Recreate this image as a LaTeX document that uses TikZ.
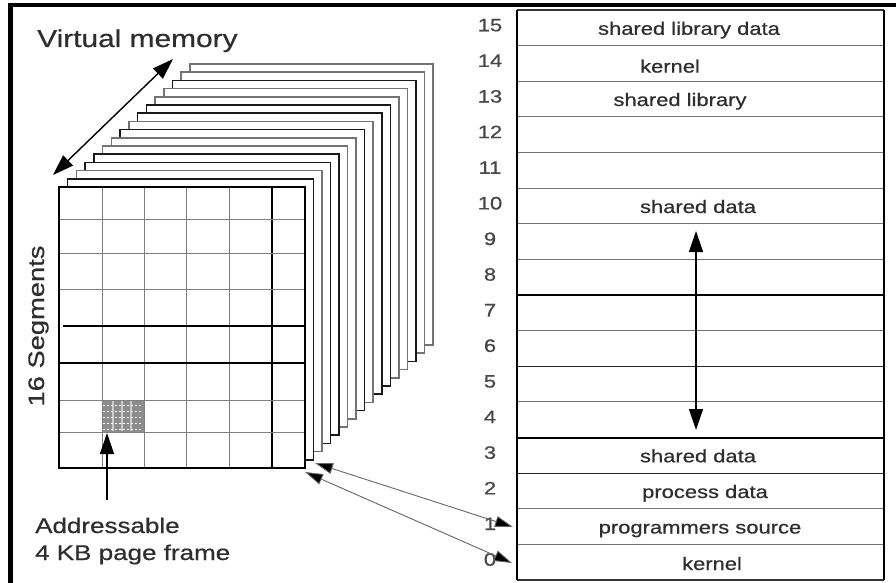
\documentclass[tikz,border=0pt]{standalone}
\usepackage{fontspec}
\setmainfont{Liberation Sans}[FakeStretch=1.22,FakeBold=0.6]
\usetikzlibrary{arrows.meta}
\begin{document}
\begin{tikzpicture}[x=1pt,y=-1pt,
  txt/.style={text=black!82, inner sep=0pt},
  rowtxt/.style={txt, font=\fontsize{18}{21}\selectfont, anchor=base},
  numtxt/.style={txt, text=black!72, font=\fontsize{18}{21}\selectfont, anchor=base},
  bigarrow/.style={line width=1.4pt, draw=black, {Triangle[length=21pt,width=14pt]}-{Triangle[length=21pt,width=14pt]}},
  uparrow/.style={line width=1.4pt, draw=black, -{Triangle[length=21pt,width=14pt]}},
  smallarrow/.style={line width=0.9pt, draw=black!60, {Triangle[length=18pt,width=11pt,fill=black]}-{Triangle[length=18pt,width=11pt,fill=black]}},
  gridthin/.style={draw=black!50, line width=0.9pt},
  gridthick/.style={draw=black, line width=1.3pt},
  rowthin/.style={draw=black!55, line width=1pt},
  rowthick/.style={draw=black, line width=2pt},
  rowmid/.style={draw=black!85, line width=1.2pt},
  pageback/.style={fill=white, line width=1.5pt},
]
\useasboundingbox (0,0) rectangle (896,583);
\fill[white] (0,0) rectangle (896,583);
% outer frame (top and left edges)
\fill[black] (8,3) rectangle (896,7.5);
\fill[black] (8,3) rectangle (12.5,583);

% ---------- stack of pages ----------
\foreach \k/\c in {15/black!55,14/black!55,13/black!90,12/black!55,11/black!55,10/black!90,9/black!90,8/black!55,7/black!90,6/black!55,5/black!55,4/black!90,3/black!90,2/black!55,1/black!90}{
  \draw[pageback, draw=\c] ({59+\k*8.73},{187-\k*8.2}) rectangle ({305+\k*8.53},{468-\k*8.2});
}
% front page
\node[draw=black, line width=1.3pt, fill=white, minimum width=246pt, minimum height=281pt,
      inner sep=0pt, outer sep=0pt, anchor=north west] (page) at (59,187) {};
% shaded page frame
\node[fill=black!45, minimum width=42pt, minimum height=32pt, inner sep=0pt, anchor=north west] (cell) at (102,400) {};
\foreach \xx in {113,122,131}{\draw[white!80!black, line width=1.6pt] (\xx,401) -- (\xx,431);}
\foreach \yy in {405,411,417,423,429}{\draw[white, line width=1pt, dash pattern=on 1.5pt off 2.5pt] (103,\yy) -- (143,\yy);}
% grid
\foreach \xx in {102,144,186,229}{\draw[gridthin] (\xx,187) -- (\xx,468);}
\draw[gridthick] (272,187) -- (272,468);
\foreach \yy in {219,253,289,400,432}{\draw[gridthin] (59,\yy) -- (305,\yy);}
\draw[gridthick] (63,326) -- (305,326);
\draw[gridthick] (59,363) -- (305,363);
\draw[black, line width=1.3pt] (page.north west) rectangle (page.south east);

% labels on the left
\node[txt, font=\fontsize{24.5}{27}\selectfont, anchor=base west] (vm) at (37,47) {Virtual memory};
\node[txt, font=\fontsize{22.4}{25}\selectfont, anchor=base, rotate=90] (seg) at (44,326) {16 Segments};
\node[txt, font=\fontsize{21.3}{24}\selectfont, anchor=base west] (addr) at (35,533) {Addressable};
\node[txt, font=\fontsize{21.3}{24}\selectfont, anchor=base west] (kb) at (35,560) {4 KB page frame};

\coordinate (vmA) at (53,175);
\coordinate (vmB) at (173,59);
\draw[bigarrow] (vmA) -- (vmB);
\coordinate (addrTail) at (107,500);
\coordinate (cellTip) at (107,433);
\draw[uparrow] (addrTail) -- (cellTip);

% ---------- segment table ----------
\node[draw=none, minimum width=367pt, minimum height=570pt, inner sep=0pt, outer sep=0pt, anchor=north west] (table) at (517,10) {};
\foreach \i in {1,...,15}{
  \pgfmathsetmacro{\yy}{10+\i*35.625}
  \draw[rowthin] (517,\yy) -- (884,\yy);
}
\draw[rowmid] (517,366.25) -- (884,366.25);
\draw[rowmid] (517,473.1) -- (884,473.1);
\draw[rowthick] (517,295) -- (884,295);
\draw[rowthick] (517,437.5) -- (884,437.5);
\draw[black!80, line width=1.2pt] (table.north west) -- (table.north east);
\draw[black!80, line width=1.2pt] (table.south west) -- (table.south east);
\draw[black, line width=1.6pt] (table.north west) -- (table.south west);
\draw[black, line width=2.2pt] (table.north east) -- (table.south east);

% segment numbers
\foreach \i in {0,...,15}{
  \pgfmathsetmacro{\yc}{10+(15-\i)*35.625+17.8+3.5}
  \node[numtxt] (n\i) at (490,\yc) {\i};
}
% segment contents
\node[rowtxt] (r15) at (689,34.8) {shared library data};
\node[rowtxt] (r14) at (670,72.6) {kernel};
\node[rowtxt] (r13) at (680,106) {shared library};
\node[rowtxt] (r10) at (698,213) {shared data};
\node[rowtxt] (r3) at (698,462.3) {shared data};
\node[rowtxt] (r2) at (705,498) {process data};
\node[rowtxt] (r1) at (700,533.5) {programmers source};
\node[rowtxt] (r0) at (712,570) {kernel};

% growth arrow in the table
\coordinate (gTop) at (696,231);
\coordinate (gBot) at (696,430);
\draw[bigarrow] (gTop) -- (gBot);

% arrows between table and stack
\coordinate (s1) at (315,463);
\coordinate (t1) at (513,527);
\coordinate (s0) at (305,472);
\coordinate (t0) at (512,563);
\draw[smallarrow] (s1) -- (t1);
\draw[smallarrow] (s0) -- (t0);
\end{tikzpicture}
\end{document}
